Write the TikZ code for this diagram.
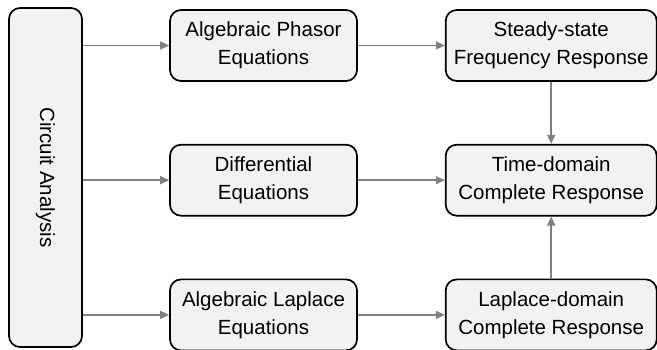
\documentclass[tikz,border=0pt]{standalone}
\usepackage{fontspec}
\setmainfont{Liberation Sans}
\usetikzlibrary{arrows.meta, positioning, shadows}
\tikzset{
  block/.style={
    rectangle, rounded corners=11pt, draw=black, line width=1.7pt,
    fill=black!5, align=center, font=\fontsize{20.5}{28}\selectfont,
    minimum height=71pt, inner sep=3pt,
    drop shadow={shadow xshift=0.8pt, shadow yshift=-0.8pt, opacity=0.25}},
  eqn/.style ={block, minimum width=187pt},
  resp/.style={block, minimum width=211pt},
  farrow/.style={-{Triangle[length=9pt,width=8pt]}, draw=black!50, line width=1.6pt},
}
\begin{document}
\begin{tikzpicture}[x=1pt, y=1pt, node distance=62pt and 87pt]
\useasboundingbox (0,0) rectangle (657,350);

\node[block, minimum width=73pt, minimum height=339pt] (circuit) at (45.5,172.5) {};
\node[rotate=-90, font=\fontsize{20.5}{28}\selectfont] (circuitlabel) at (circuit.center) {Circuit Analysis};

\node[eqn] (phasor) at (263.5,304.5) {Algebraic Phasor\\Equations};
\node[eqn, below=of phasor] (diffeq) {Differential\\Equations};
\node[eqn, below=of diffeq] (laplace) {Algebraic Laplace\\Equations};

\node[resp, right=of phasor] (steady) {Steady-state\\Frequency Response};
\node[resp, right=of diffeq] (timedom) {Time-domain\\Complete Response};
\node[resp, right=of laplace] (lapdom) {Laplace-domain\\Complete Response};

\draw[farrow] (circuit.east |- phasor) -- (phasor);
\draw[farrow] (circuit.east |- diffeq) -- (diffeq);
\draw[farrow] (circuit.east |- laplace) -- (laplace);
\draw[farrow] (phasor) -- (steady);
\draw[farrow] (diffeq) -- (timedom);
\draw[farrow] (laplace) -- (lapdom);
\draw[farrow] (steady) -- (timedom);
\draw[farrow] (lapdom) -- (timedom);

\end{tikzpicture}
\end{document}
